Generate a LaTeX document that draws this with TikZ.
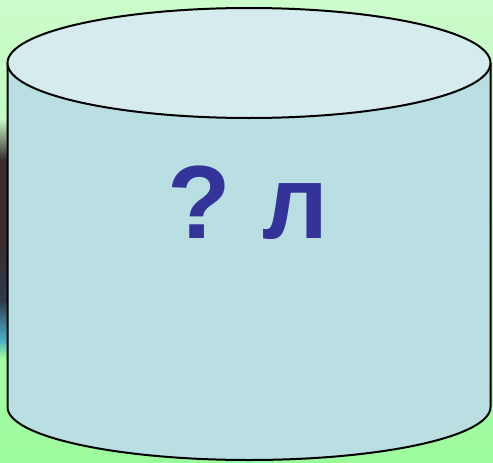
\documentclass[tikz,border=0pt]{standalone}
\usepackage{fontspec}
\setmainfont{Liberation Sans}
\definecolor{bgtop}{HTML}{CCFCCC}
\definecolor{bgbot}{HTML}{9CFC9C}
\definecolor{topfill}{HTML}{D6EBEE}
\definecolor{sidefill}{HTML}{B9DFE3}
\definecolor{txtblue}{HTML}{333399}
\definecolor{darkA}{HTML}{3B2A2E}
\definecolor{darkB}{HTML}{2E3A4A}
\definecolor{tealA}{HTML}{4AAFC8}
\tikzset{
  outline/.style={draw=black, line width=2pt},
  label/.style={font=\bfseries\fontsize{104}{104}\selectfont, text=txtblue, inner sep=0pt}
}
\begin{document}
\begin{tikzpicture}[x=1pt,y=-1pt]
\useasboundingbox (0,0) rectangle (493,463);
% background
\shade[top color=bgtop, bottom color=bgbot] (0,0) rectangle (493,463);
% dark strip at left edge
\shade[top color=bgtop, bottom color=darkA] (0,118) rectangle (8,160);
\fill[darkA] (0,160) rectangle (8,240);
\shade[top color=darkA, bottom color=darkB] (0,240) rectangle (8,300);
\shade[top color=darkB, bottom color=tealA] (0,300) rectangle (8,340);
\shade[top color=tealA, bottom color=bgbot] (0,340) rectangle (8,358);
% cylinder body
\path[fill=sidefill, outline] (7.5,63) -- (7.5,407) arc[start angle=180, end angle=0, x radius=241.5, y radius=53] -- (490.5,63);
% top ellipse
\path[fill=topfill, outline] (249,63) ellipse[x radius=241.5, y radius=55];
% label
\node[label, anchor=base] (lbl) at (248,238) {?\hspace{0.3em}л};
\end{tikzpicture}
\end{document}
